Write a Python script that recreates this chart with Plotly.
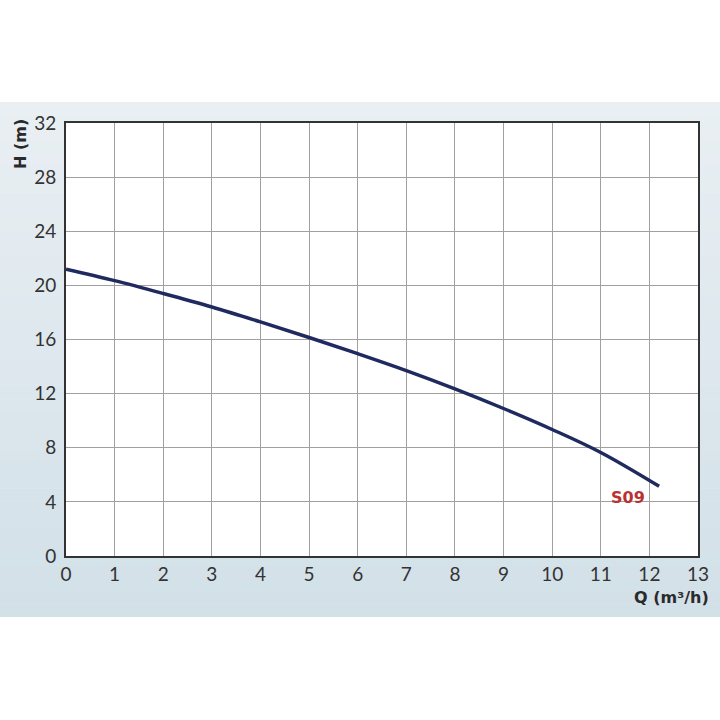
import plotly.graph_objects as go

# Data
flow_q = [0, 1, 2, 3, 4, 5, 6, 7, 8, 9, 10, 11, 12.2]
head_h = [21.2, 20.35, 19.4, 18.4, 17.3, 16.15, 14.95, 13.7, 12.35, 10.9, 9.35, 7.65, 5.15]
x_ticks = list(range(0, 14))
y_ticks = [0, 4, 8, 12, 16, 20, 24, 28, 32]
model_label = "S09"

W, H = 720, 720
L, R, T, B = 66, 698, 123, 556
pw, ph = R - L, B - T

def px_x(p):
    return (p - L) / pw

def px_y(p):
    return (B - p) / ph

fig = go.Figure()
fig.add_trace(go.Scatter(x=flow_q, y=head_h, mode="lines",
                         line=dict(color="#1f2a5e", width=3.5, shape="spline"),
                         hoverinfo="skip", showlegend=False))

shapes = []
# gradient panel
top_px, bot_px = 102, 617
n = 40
c_top = (233, 239, 243)
c_bot = (210, 224, 232)
for i in range(n):
    f = i / (n - 1)
    c = tuple(int(round(c_top[k] + (c_bot[k] - c_top[k]) * f)) for k in range(3))
    y0p = top_px + (bot_px - top_px) * i / n
    y1p = top_px + (bot_px - top_px) * (i + 1) / n + 0.5
    shapes.append(dict(type="rect", xref="paper", yref="paper", layer="below",
                       x0=px_x(0), x1=px_x(W), y0=px_y(min(y1p, bot_px)), y1=px_y(y0p),
                       fillcolor="rgb(%d,%d,%d)" % c, line=dict(width=0)))
shapes.append(dict(type="rect", xref="paper", yref="paper", layer="below",
                   x0=0, x1=1, y0=0, y1=1, fillcolor="white", line=dict(width=0)))

fig.update_layout(
    width=W, height=H,
    margin=dict(l=L, r=W - R, t=T, b=H - B),
    paper_bgcolor="white",
    plot_bgcolor="rgba(0,0,0,0)",
    shapes=shapes,
    font=dict(family="Lato", size=18, color="#333333"),
    xaxis=dict(range=[0, 13], tickvals=x_ticks, showgrid=True, gridcolor="#a0a0a0", gridwidth=1,
               showline=True, linecolor="#333333", linewidth=2, mirror=True,
               ticks="", zeroline=False, ticklabelstandoff=0,
               tickfont=dict(family="Lato", size=19, color="#333333")),
    yaxis=dict(range=[0, 32], tickvals=y_ticks, showgrid=True, gridcolor="#a0a0a0", gridwidth=1,
               showline=True, linecolor="#333333", linewidth=2, mirror=True,
               ticks="", zeroline=False, ticklabelstandoff=4,
               tickfont=dict(family="Lato", size=19, color="#333333")),
    annotations=[
        dict(text="<b>H (m)</b>", xref="paper", yref="paper", x=px_x(20), y=px_y(144),
             xanchor="center", yanchor="middle",
             showarrow=False, textangle=-90, font=dict(family="DejaVu Sans", size=16, color="#2a2a2a")),
        dict(text="<b>Q (m³/h)</b>", xref="paper", yref="paper", x=px_x(711), y=px_y(597),
             xanchor="right", yanchor="middle", showarrow=False,
             font=dict(family="DejaVu Sans", size=16, color="#2a2a2a")),
        dict(text="<b>" + model_label + "</b>", x=11.55, y=4.35, showarrow=False,
             xanchor="center", yanchor="middle",
             font=dict(family="DejaVu Sans", size=16, color="#b83232")),
    ],
)

fig.write_html("out.html")
